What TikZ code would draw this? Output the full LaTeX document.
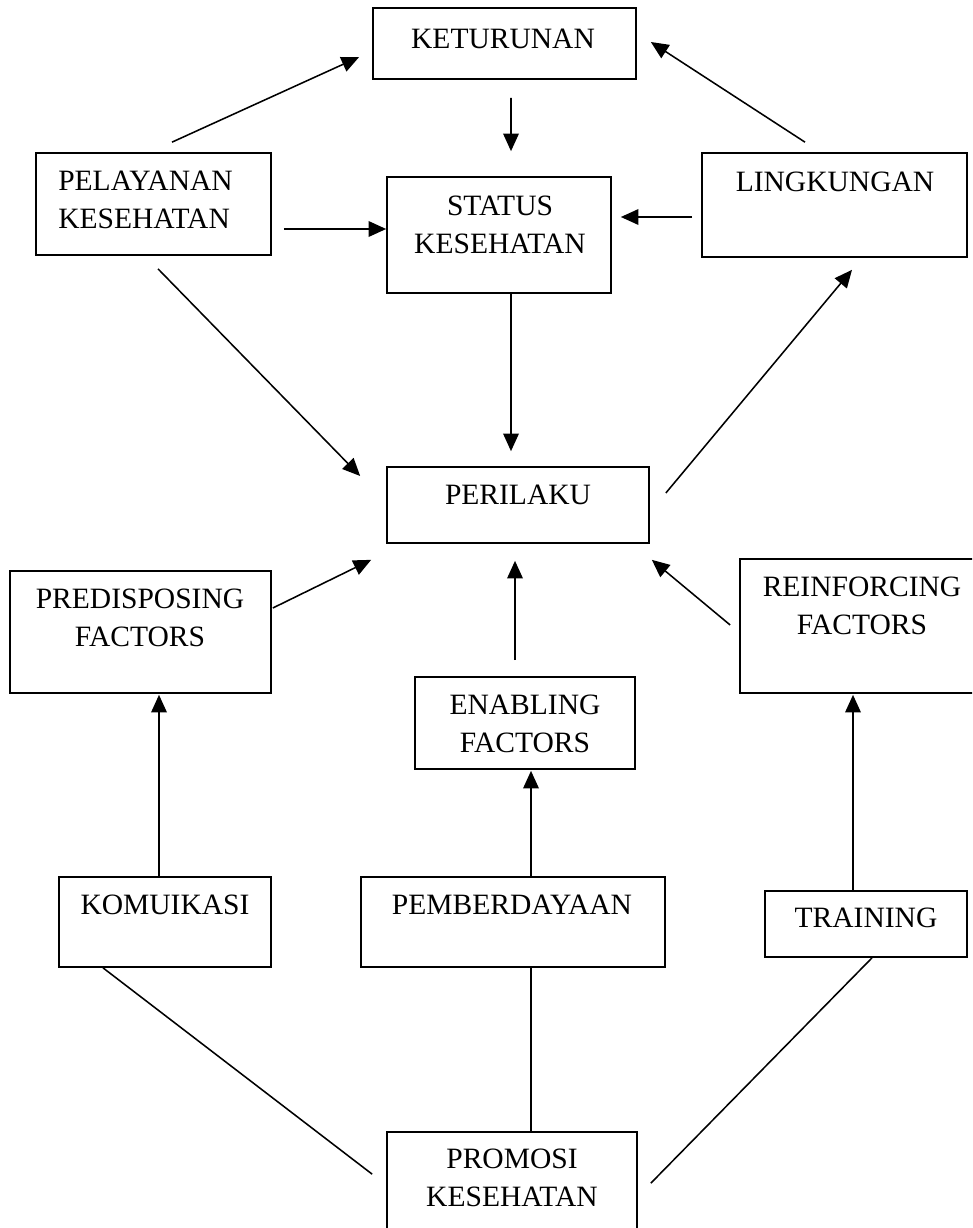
\documentclass[tikz,border=0pt]{standalone}
\usepackage{fontspec}
\setmainfont{Liberation Serif}
\usetikzlibrary{arrows.meta,fit}

\begin{document}
\begin{tikzpicture}[
    x=0.025cm, y=-0.025cm,
    box/.style={rectangle, draw=black, line width=1.2pt, inner sep=0pt},
    txt/.style={inner sep=0pt, align=center, font=\fontsize{21}{27}\selectfont},
    arr/.style={-{Triangle[length=4.4mm, width=3.9mm]}, line width=1.1pt},
    ln/.style={line width=1.1pt}
]
\useasboundingbox (0,0) rectangle (972,1228);
\clip (0,0) rectangle (972,1228);

% boxes
\node[box, fit={(373,8) (636,79)}] (ket) {};
\node[box, fit={(36,153) (271,255)}] (pel) {};
\node[box, fit={(387,177) (611,293)}] (sta) {};
\node[box, fit={(702,153) (967,257)}] (lin) {};
\node[box, fit={(387,467) (649,543)}] (per) {};
\node[box, fit={(10,571) (271,693)}] (pre) {};
\node[box, fit={(415,677) (635,769)}] (ena) {};
\node[box, fit={(740,559) (984,693)}] (rei) {};
\node[box, fit={(59,877) (271,967)}] (kom) {};
\node[box, fit={(361,877) (665,967)}] (pem) {};
\node[box, fit={(765,891) (967,957)}] (tra) {};
\node[box, fit={(387,1132) (637,1250)}] (pro) {};

% texts
\node[txt] (ketT) at (503,39) {KETURUNAN};
\node[txt, align=left, anchor=west] (pelT) at (58,200) {PELAYANAN\\KESEHATAN};
\node[txt] (staT) at (500,225) {STATUS\\KESEHATAN};
\node[txt] (linT) at (835,182) {LINGKUNGAN};
\node[txt] (perT) at (518,495) {PERILAKU};
\node[txt] (preT) at (140,618) {PREDISPOSING\\FACTORS};
\node[txt] (enaT) at (525,724) {ENABLING\\FACTORS};
\node[txt] (reiT) at (862,606) {REINFORCING\\FACTORS};
\node[txt] (komT) at (165,905) {KOMUIKASI};
\node[txt] (pemT) at (512,905) {PEMBERDAYAAN};
\node[txt] (traT) at (866,918) {TRAINING};
\node[txt] (proT) at (512,1178) {PROMOSI\\KESEHATAN};

% arrows
\draw[arr] ([shift={(18.5,-10)}]pel.north) -- ([shift={(-13,13.5)}]ket.west);
\draw[arr] ([shift={(-29.5,-10)}]lin.north) -- ([shift={(14,-1.5)}]ket.east);
\draw[arr] ([shift={(6.5,18)}]ket.south) -- ([shift={(12,-25)}]sta.north);
\draw[arr] ([shift={(12,25)}]pel.east) -- ([shift={(0,-6)}]sta.west);
\draw[arr] ([shift={(-9,12)}]lin.west) -- ([shift={(9,-18)}]sta.east);
\draw[arr] ([shift={(12,0)}]sta.south) -- ([shift={(-7,-15)}]per.north);
\draw[arr] ([shift={(4.5,13)}]pel.south) -- ([shift={(-26,-29)}]per.west);
\draw[arr] ([shift={(16,-12)}]per.east) -- ([shift={(17.5,12)}]lin.south);
\draw[arr] ([shift={(1,-24)}]pre.east) -- ([shift={(-15,16)}]per.south west);
\draw[arr] ([shift={(-10,-16)}]ena.north) -- ([shift={(-3,17)}]per.south);
\draw[arr] ([shift={(-9,-1)}]rei.west) -- ([shift={(2,16)}]per.south east);
\draw[arr] ([shift={(-6,0)}]kom.north) -- ([shift={(18.5,1)}]pre.south);
\draw[arr] ([shift={(18,0)}]pem.north) -- ([shift={(6,1)}]ena.south);
\draw[arr] ([shift={(-13,0)}]tra.north) -- ([shift={(-9,1)}]rei.south);

% lines from promosi
\draw[ln] ([shift={(-62,0)}]kom.south) -- ([shift={(-14,43)}]pro.north west);
\draw[ln] ([shift={(18,0)}]pem.south) -- ([shift={(19,0)}]pro.north);
\draw[ln] ([shift={(6,0)}]tra.south) -- ([shift={(13,52)}]pro.north east);
\end{tikzpicture}
\end{document}
